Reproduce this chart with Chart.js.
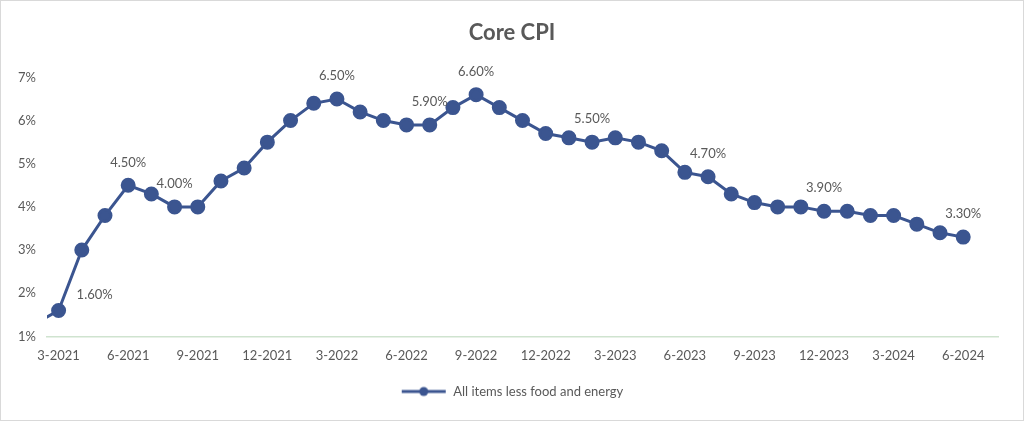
<!DOCTYPE html>
<html>
<head>
<meta charset="utf-8">
<script src="https://cdn.jsdelivr.net/npm/chart.js@4.4.1/dist/chart.umd.min.js"></script>
<style>
  html, body { margin: 0; padding: 0; background: #fff; }
  #wrap { position: relative; width: 1022px; height: 419px; border: 1px solid #d9d9d9; }
</style>
</head>
<body>
<div id="wrap"><canvas id="cpiChart"></canvas></div>
<script>
// Monthly core CPI (YoY %), Feb 2021 is only there so the line runs in from the left edge
const months = ['2-2021', '3-2021', '4-2021', '5-2021', '6-2021', '7-2021', '8-2021', '9-2021', '10-2021', '11-2021', '12-2021',
    '1-2022', '2-2022', '3-2022', '4-2022', '5-2022', '6-2022', '7-2022', '8-2022', '9-2022', '10-2022', '11-2022', '12-2022',
    '1-2023', '2-2023', '3-2023', '4-2023', '5-2023', '6-2023', '7-2023', '8-2023', '9-2023', '10-2023', '11-2023', '12-2023',
    '1-2024', '2-2024', '3-2024', '4-2024', '5-2024', '6-2024', '7-2024'];
const coreCpi = [1.3, 1.6, 3.0, 3.8, 4.5, 4.3, 4.0, 4.0, 4.6, 4.9, 5.5,
    6.0, 6.4, 6.5, 6.2, 6.0, 5.9, 5.9, 6.3, 6.6, 6.3, 6.0, 5.7,
    5.6, 5.5, 5.6, 5.5, 5.3, 4.8, 4.7, 4.3, 4.1, 4.0, 4.0, 3.9,
    3.9, 3.8, 3.8, 3.6, 3.4, 3.3, null];
const labelledMonths = ['3-2021', '6-2021', '8-2021', '3-2022', '7-2022', '9-2022', '2-2023', '7-2023', '12-2023', '6-2024'];

const lineColor = '#3b5590';
const textColor = '#595959';
const fontFamily = 'Lato, "Open Sans", sans-serif';

// legend marker: line with a dot
const legendIcon = document.createElement('canvas');
legendIcon.width = 46;
legendIcon.height = 12;
const ic = legendIcon.getContext('2d');
ic.strokeStyle = lineColor;
ic.lineWidth = 3;
ic.beginPath();
ic.moveTo(1, 6);
ic.lineTo(45, 6);
ic.stroke();
ic.fillStyle = lineColor;
ic.beginPath();
ic.arc(23, 6, 4.5, 0, Math.PI * 2);
ic.fill();

// draws the few value labels Excel shows
const valueLabels = {
    id: 'valueLabels',
    afterDatasetsDraw(chart) {
        const c = chart.ctx;
        const meta = chart.getDatasetMeta(0);
        c.save();
        c.font = '13px ' + fontFamily;
        c.fillStyle = textColor;
        c.textBaseline = 'middle';
        labelledMonths.forEach(m => {
            const i = months.indexOf(m);
            const pt = meta.data[i];
            const txt = coreCpi[i].toFixed(2) + '%';
            if (i === 1) {
                c.textAlign = 'left';
                c.fillText(txt, pt.x + 18, pt.y - 16);
            } else {
                c.textAlign = 'center';
                c.fillText(txt, pt.x, pt.y - 23);
            }
        });
        c.restore();
    }
};

// let the y tick labels use the space left of the padding so they are not clipped
const widenYScale = {
    id: 'widenYScale',
    afterLayout(chart) {
        chart.scales.y.left = 0;
    }
};

const ctx = document.getElementById('cpiChart').getContext('2d');
const cpiChart = new Chart(ctx, {
    type: 'line',
    data: {
        labels: months,
        datasets: [{
            label: 'All items less food and energy',
            data: coreCpi,
            borderColor: lineColor,
            backgroundColor: lineColor,
            borderWidth: 3,
            pointRadius: 6,
            pointHoverRadius: 6,
            pointStyle: 'circle',
            tension: 0
        }]
    },
    options: {
        responsive: true,
        maintainAspectRatio: false,
        animation: false,
        layout: { padding: { left: 25, right: 25, top: 0, bottom: 12 } },
        scales: {
            x: {
                min: '3-2021',
                offset: true,
                grid: { display: false, drawTicks: false },
                border: { display: true, color: '#cfe3cf', width: 1.5 },
                ticks: {
                    autoSkip: false,
                    maxRotation: 0,
                    padding: 12,
                    color: textColor,
                    font: { family: fontFamily, size: 13 },
                    callback: function (value) {
                        const lab = this.getLabelForValue(value);
                        const mo = parseInt(lab.split('-')[0], 10);
                        return mo % 3 === 0 ? lab : '';
                    }
                }
            },
            y: {
                min: 1,
                max: 7,
                grid: { display: false, drawTicks: false },
                border: { display: false },
                afterFit: s => { s.width = 21; },
                ticks: {
                    stepSize: 1,
                    padding: 11,
                    color: textColor,
                    font: { family: fontFamily, size: 13 },
                    callback: v => v + '%'
                }
            }
        },
        plugins: {
            title: {
                display: true,
                text: 'Core CPI',
                color: textColor,
                font: { family: fontFamily, size: 22, weight: 'bold' },
                padding: { top: 19, bottom: 31 }
            },
            legend: {
                position: 'bottom',
                labels: {
                    usePointStyle: true,
                    pointStyle: legendIcon,
                    pointStyleWidth: 46,
                    boxHeight: 12,
                    color: textColor,
                    font: { family: fontFamily, size: 13 },
                    padding: 9
                }
            },
            tooltip: { enabled: false }
        }
    },
    plugins: [valueLabels, widenYScale]
});
</script>
</body>
</html>
